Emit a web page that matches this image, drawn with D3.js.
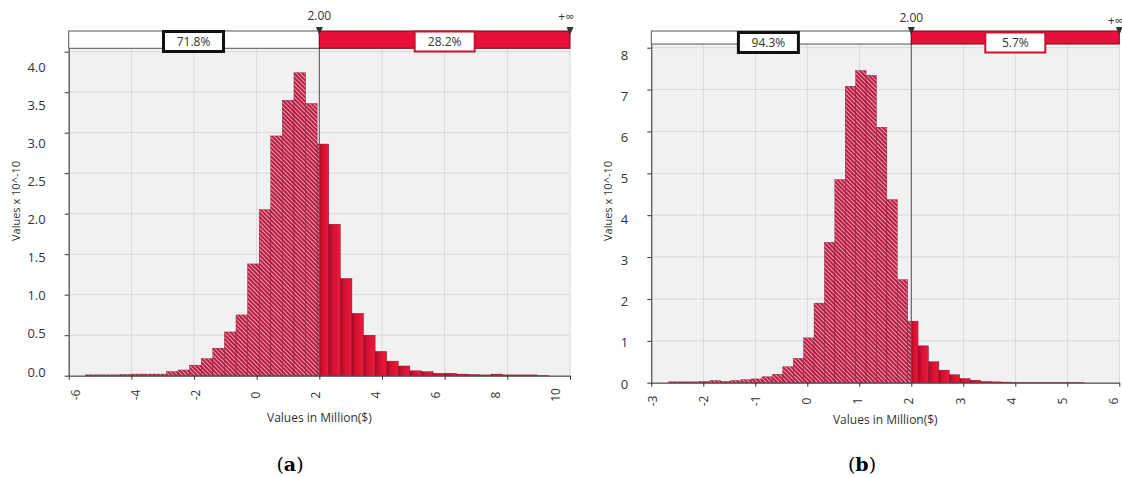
<!DOCTYPE html>
<html>
<head>
<meta charset="utf-8">
<script src="https://cdnjs.cloudflare.com/ajax/libs/d3/7.8.5/d3.min.js"></script>
<style>
    body { margin: 0; background: #fff; }
    text { font-family: "Open Sans", "Noto Sans", sans-serif; }
</style>
</head>
<body>
<script>
// histogram (a): bins of 0.37 starting at -5.47
var binStartA = -5.47, binWidthA = 0.37;
var valuesA = [0.01, 0.01, 0.01, 0.015, 0.02, 0.02, 0.02, 0.05, 0.07, 0.13,
    0.21, 0.34, 0.54, 0.75, 1.38, 2.05, 2.96, 3.4, 3.74, 3.36,
    2.86, 1.87, 1.2, 0.77, 0.5, 0.3, 0.18, 0.12, 0.06, 0.05,
    0.03, 0.03, 0.02, 0.015, 0.01, 0.02, 0.01, 0.01, 0.01, 0.005];

// histogram (b): bins of 0.2 starting at -2.67
var binStartB = -2.67, binWidthB = 0.2;
var valuesB = [0.02, 0.02, 0.02, 0.03, 0.05, 0.03, 0.05, 0.07, 0.09, 0.14,
    0.2, 0.38, 0.58, 1.07, 1.9, 3.35, 4.85, 7.08, 7.45, 7.34,
    6.1, 4.37, 2.46, 1.47, 0.88, 0.5, 0.3, 0.19, 0.1, 0.06,
    0.03, 0.02, 0.015, 0.01, 0.01, 0.01, 0.01, 0.01, 0.01, 0.01];

var cutoff = 2;
var xTicksA = [-6, -4, -2, 0, 2, 4, 6, 8, 10];
var yTicksA = [0, 0.5, 1, 1.5, 2, 2.5, 3, 3.5, 4];
var xTicksB = [-3, -2, -1, 0, 1, 2, 3, 4, 5, 6];
var yTicksB = [0, 1, 2, 3, 4, 5, 6, 7, 8];
var pctA = ['71.8%', '28.2%'];
var pctB = ['94.3%', '5.7%'];

var svg = d3.select('body').append('svg').attr('width', 1122).attr('height', 477);
var defs = svg.append('defs');

var hatch = defs.append('pattern').attr('id', 'hatch')
    .attr('width', 3).attr('height', 3)
    .attr('patternUnits', 'userSpaceOnUse')
    .attr('patternTransform', 'rotate(-45)');
hatch.append('rect').attr('width', 3).attr('height', 3).attr('fill', '#b3163c');
hatch.append('line').attr('x1', 1.5).attr('x2', 1.5).attr('y1', 0).attr('y2', 3)
    .attr('stroke', '#ef9db0').attr('stroke-width', 1.1);

var grad = defs.append('linearGradient').attr('id', 'redgrad')
    .attr('x1', 0).attr('x2', 1).attr('y1', 0).attr('y2', 0);
grad.append('stop').attr('offset', '0%').attr('stop-color', '#a40a27');
grad.append('stop').attr('offset', '35%').attr('stop-color', '#d5102f');
grad.append('stop').attr('offset', '100%').attr('stop-color', '#ec183e');

function panel(p) {
    var x = d3.scaleLinear().domain(p.xDomain).range([p.left, p.right]);
    var y = d3.scaleLinear().domain([0, p.yTop]).range([p.base, p.top]);
    // tick labels sit on their own slightly compressed scales, as in the source picture
    var xLab = d3.scaleLinear().domain(p.xDomain).range(p.xLabRange);
    var yLab = d3.scaleLinear().domain([0, p.yTicks[p.yTicks.length - 1]]).range(p.yLabRange);
    var g = svg.append('g');

    g.append('rect').attr('x', p.left).attr('y', p.top)
        .attr('width', p.right - p.left).attr('height', p.base - p.top)
        .attr('fill', '#f1f1f1');

    g.selectAll('.vgrid').data(p.xTicks).enter().append('line')
        .attr('class', 'vgrid')
        .attr('x1', function (d) { return x(d); }).attr('x2', function (d) { return x(d); })
        .attr('y1', p.top).attr('y2', p.base)
        .attr('stroke', '#d9d9d9');
    g.selectAll('.hgrid').data(p.yTicks).enter().append('line')
        .attr('class', 'hgrid')
        .attr('x1', p.left).attr('x2', p.right)
        .attr('y1', function (d) { return y(d); }).attr('y2', function (d) { return y(d); })
        .attr('stroke', '#d9d9d9');

    // split every bin at the cutoff: hatched left part, solid right part
    var parts = [];
    p.values.forEach(function (v, i) {
        var x0 = p.start + i * p.width, x1 = x0 + p.width;
        if (x0 < cutoff) parts.push({ a: x0, b: Math.min(x1, cutoff), v: v, red: false });
        if (x1 > cutoff) parts.push({ a: Math.max(x0, cutoff), b: x1, v: v, red: true });
    });
    g.selectAll('.bar').data(parts).enter().append('rect')
        .attr('class', 'bar')
        .attr('x', function (d) { return x(d.a); })
        .attr('width', function (d) { return x(d.b) - x(d.a); })
        .attr('y', function (d) { return y(d.v); })
        .attr('height', function (d) { return p.base - y(d.v); })
        .attr('fill', function (d) { return d.red ? 'url(#redgrad)' : 'url(#hatch)'; })
        .attr('stroke', '#7c0c22').attr('stroke-width', 0.4);

    g.append('line')
        .attr('x1', x(cutoff)).attr('x2', x(cutoff))
        .attr('y1', p.barTop).attr('y2', p.base)
        .attr('stroke', '#555').attr('stroke-width', 1);

    g.append('g').attr('transform', 'translate(0,' + p.base + ')')
        .call(d3.axisBottom(x).tickValues(p.xTicks).tickSize(4).tickSizeOuter(0).tickFormat(''))
        .call(function (a) { a.selectAll('path,line').attr('stroke', '#333'); });
    g.append('g').attr('transform', 'translate(' + p.left + ',0)')
        .call(d3.axisLeft(y).tickValues(p.yTicks).tickSize(4).tickSizeOuter(0).tickFormat(''))
        .call(function (a) { a.selectAll('path,line').attr('stroke', '#333'); });

    g.selectAll('.ylab').data(p.yTicks).enter().append('text')
        .attr('class', 'ylab')
        .attr('x', p.left - 23).attr('y', function (d) { return yLab(d); })
        .attr('dy', '0.35em').attr('text-anchor', 'end')
        .style('font-size', '13px').style('fill', '#333')
        .text(p.yFormat);
    g.selectAll('.xlab').data(p.xTicks).enter().append('text')
        .attr('class', 'xlab')
        .attr('transform', function (d) { return 'translate(' + xLab(d) + ',' + p.xLabY + ') rotate(-90)'; })
        .attr('dy', '0.35em').attr('text-anchor', 'middle')
        .style('font-size', '12px').style('fill', '#333')
        .text(function (d) { return d; });

    g.append('text').attr('x', (p.left + p.right) / 2).attr('y', p.xTitleY)
        .attr('text-anchor', 'middle').style('font-size', '12px').style('fill', '#333')
        .text('Values in Million($)');
    g.append('text')
        .attr('transform', 'translate(' + p.yTitleX + ',201) rotate(-90)')
        .attr('dy', '0.35em').attr('text-anchor', 'middle')
        .style('font-size', '11px').style('fill', '#333')
        .text('Values x 10^-10');

    // cutoff bar above the plot
    g.append('rect').attr('x', p.left).attr('y', p.barTop0)
        .attr('width', x(cutoff) - p.left).attr('height', p.barTop - p.barTop0)
        .attr('fill', '#fff').attr('stroke', '#555');
    g.append('rect').attr('x', x(cutoff)).attr('y', p.barTop0)
        .attr('width', p.right - x(cutoff)).attr('height', p.barTop - p.barTop0)
        .attr('fill', '#e8103a').attr('stroke', '#6e0a1c');

    [x(cutoff), p.right].forEach(function (cx) {
        g.append('path')
            .attr('d', 'M' + (cx - 3.5) + ',' + (p.barTop0 - 4) + 'L' + (cx + 3.5) + ',' + (p.barTop0 - 4) + 'L' + cx + ',' + (p.barTop0 + 4) + 'Z')
            .attr('fill', '#333');
    });
    g.append('text').attr('x', x(cutoff)).attr('y', p.markY)
        .attr('text-anchor', 'middle').style('font-size', '12px').style('fill', '#333')
        .text(d3.format('.2f')(cutoff));
    g.append('text').attr('x', p.right - 4).attr('y', p.infY)
        .attr('text-anchor', 'middle').style('font-size', '12px').style('fill', '#333')
        .text('+∞');

    var boxes = [
        { cx: p.leftBoxCx, t: p.pct[0], stroke: '#111', sw: 3 },
        { cx: (x(cutoff) + p.right) / 2, t: p.pct[1], stroke: '#d0102f', sw: 2 }
    ];
    boxes.forEach(function (b) {
        g.append('rect').attr('x', b.cx - 30).attr('y', p.boxY)
            .attr('width', 60).attr('height', 20)
            .attr('fill', '#fff').attr('stroke', b.stroke).attr('stroke-width', b.sw);
        g.append('text').attr('x', b.cx).attr('y', p.boxY + 10).attr('dy', '0.35em')
            .attr('text-anchor', 'middle').style('font-size', '12px').style('fill', '#333')
            .text(b.t);
    });

    var cap = g.append('text').attr('x', p.capX).attr('y', 471)
        .attr('text-anchor', 'middle')
        .style('font-family', '"DejaVu Serif", "Liberation Serif", serif')
        .style('font-size', '19px').style('fill', '#000');
    cap.append('tspan').text('(');
    cap.append('tspan').style('font-weight', 'bold').text(p.cap);
    cap.append('tspan').text(')');
}

panel({
    values: valuesA, start: binStartA, width: binWidthA,
    xDomain: [-6, 10], yTop: 4.042, xTicks: xTicksA, yTicks: yTicksA,
    left: 68.7, right: 570, top: 48.3, base: 375.7,
    xLabRange: [75.7, 556], yLabRange: [372, 67], xLabY: 395,
    yFormat: d3.format('.1f'),
    barTop0: 31, barTop: 48.3, markY: 20, infY: 21, boxY: 31.5,
    leftBoxCx: 193.5, pct: pctA,
    xTitleY: 422, yTitleX: 16, capX: 290, cap: 'a'
});
panel({
    values: valuesB, start: binStartB, width: binWidthB,
    xDomain: [-3, 6], yTop: 8.088, xTicks: xTicksB, yTicks: yTicksB,
    left: 651.3, right: 1119.3, top: 44, base: 382.7,
    xLabRange: [653, 1114], yLabRange: [384, 55], xLabY: 401,
    yFormat: d3.format('d'),
    barTop0: 31, barTop: 44, markY: 22, infY: 25, boxY: 32.5,
    leftBoxCx: 768.4, pct: pctB,
    xTitleY: 424, yTitleX: 608, capX: 862, cap: 'b'
});
</script>
</body>
</html>
